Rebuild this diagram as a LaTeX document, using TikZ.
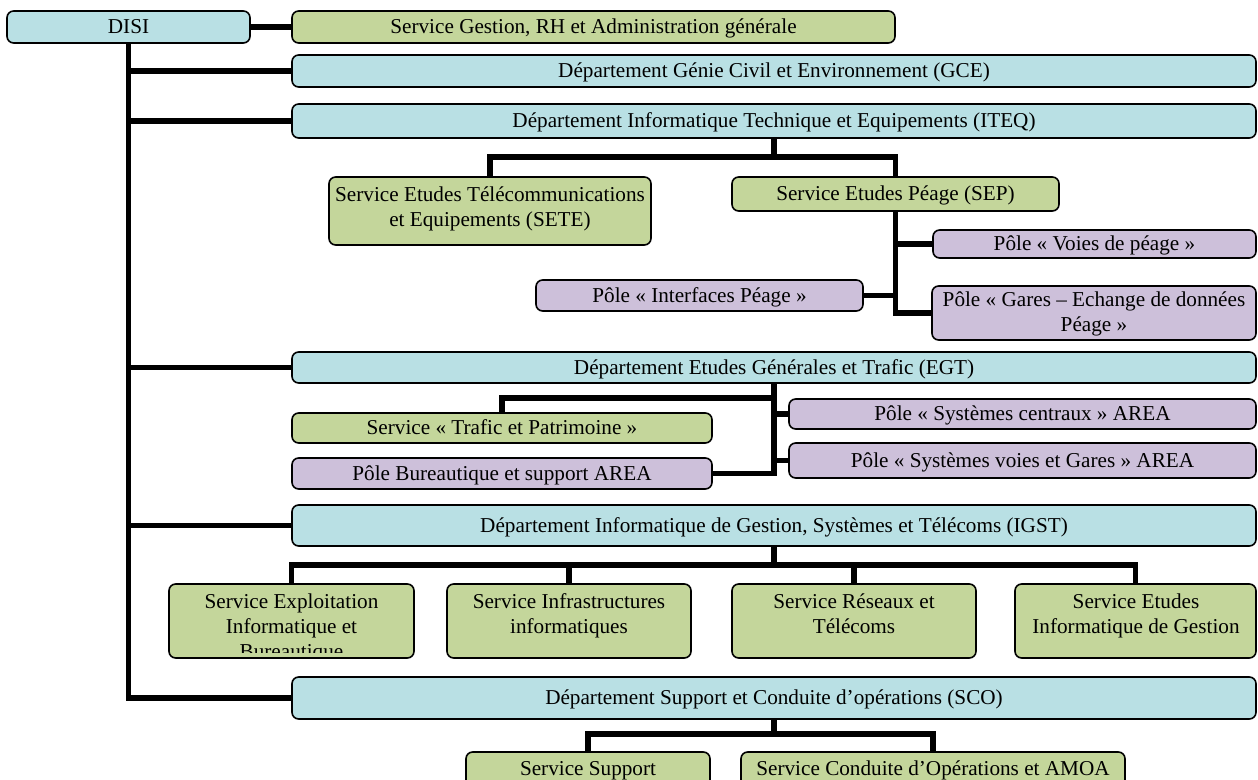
\documentclass[tikz,border=0pt]{standalone}
\usepackage{fontspec}
\setmainfont{Liberation Serif}
\newcommand\myfs{\fontsize{15.9pt}{18.75pt}\selectfont}
\definecolor{cblue}{HTML}{B9E0E4}
\definecolor{cgreen}{HTML}{C4D69B}
\definecolor{cpurple}{HTML}{CDC0DA}
\begin{document}
\begin{tikzpicture}[x=0.75pt,y=-0.75pt,
  base/.style={draw=black, line width=1.2pt, rounded corners=5pt, inner sep=0pt, align=center, font=\myfs},
  one/.style={text height=10.5pt, text depth=0.5pt},
  dep/.style={base, fill=cblue},
  srv/.style={base, fill=cgreen},
  pol/.style={base, fill=cpurple},
  geo/.style n args={4}{minimum width={(#3-(#1))*0.75pt}, minimum height={(#4-(#2))*0.75pt}, at={({(#1+#3)/2},{(#2+#4)/2})}},
  link/.style={line width=3.8pt},
  txt/.style={font=\myfs, inner sep=0pt, anchor=base}
]
\useasboundingbox (0,0) rectangle (1258,780);
\clip (0,0) rectangle (1258,780);

% boxes
\node[dep, one, geo={7}{11}{250}{43}] (disi) {DISI};
\node[srv, one, geo={292}{11}{895}{43}] (gest) {Service Gestion, RH et Administration générale};
\node[dep, one, geo={292}{55}{1256}{87}] (gce) {Département Génie Civil et Environnement (GCE)};
\node[dep, one, geo={292}{104}{1256}{138}] (iteq) {Département Informatique Technique et Equipements (ITEQ)};
\node[srv, geo={329}{177}{651}{245}] (sete) {};
\node[srv, one, geo={732}{177}{1059}{211}] (sep) {Service Etudes Péage (SEP)};
\node[pol, one, geo={933}{230}{1256}{258}] (voies) {Pôle « Voies de péage »};
\node[pol, one, geo={536}{280}{863}{311}] (inter) {Pôle « Interfaces Péage »};
\node[pol, geo={932}{286}{1256}{340}] (gares) {};
\node[dep, one, geo={292}{352}{1256}{383}] (egt) {Département Etudes Générales et Trafic (EGT)};
\node[srv, one, geo={292}{413}{712}{443}] (traf) {Service « Trafic et Patrimoine »};
\node[pol, one, geo={292}{458}{712}{489}] (bur) {Pôle Bureautique et support AREA};
\node[pol, one, geo={789}{399}{1256}{429}] (cent) {Pôle « Systèmes centraux » AREA};
\node[pol, one, geo={789}{443}{1256}{478}] (sysv) {Pôle « Systèmes voies et Gares » AREA};
\node[dep, one, geo={292}{505}{1256}{546}] (igst) {Département Informatique de Gestion, Systèmes et Télécoms (IGST)};
\node[srv, geo={169}{584}{414}{658}] (expl) {};
\node[srv, geo={447}{584}{691}{658}] (infra) {};
\node[srv, geo={732}{584}{976}{658}] (res) {};
\node[srv, geo={1015}{584}{1256}{658}] (etud) {};
\node[dep, one, geo={292}{677}{1256}{719}] (sco) {Département Support et Conduite d’opérations (SCO)};
\node[srv, geo={466}{752}{710}{810}] (supp) {};
\node[srv, geo={741}{752}{1125}{810}] (cond) {};

% multi-line / top-aligned texts
\node[txt] (setet) at (490,202) {\parbox[t]{240pt}{\centering\strut Service Etudes Télécommunications\\et Equipements (SETE)}};
\node[txt] (garest) at (1094,307) {\parbox[t]{240pt}{\centering\strut Pôle « Gares – Echange de données\\Péage »}};
\begin{scope}
\clip (169,584) rectangle (414,653);
\node[txt] (explt) at (291.5,609) {\parbox[t]{200pt}{\centering\strut Service Exploitation\\Informatique et\\Bureautique}};
\end{scope}
\node[txt] (infrat) at (569,609) {\parbox[t]{180pt}{\centering\strut Service Infrastructures\\informatiques}};
\node[txt] (rest) at (854,609) {\parbox[t]{180pt}{\centering\strut Service Réseaux et\\Télécoms}};
\node[txt] (etudt) at (1136,609) {\parbox[t]{180pt}{\centering\strut Service Etudes\\Informatique de Gestion}};
\node[txt] (suppt) at (588,775) {Service Support};
\node[txt] (condt) at (933,775) {Service Conduite d’Opérations et AMOA};

% connectors
\draw[link] (disi.east) -- (gest.west);
\draw[link] (disi.south) |- (sco.west);
\draw[link] (disi.south |- gce.west) -- (gce.west);
\draw[link] (disi.south |- iteq.west) -- (iteq.west);
\draw[link] (disi.south |- egt.west) -- (egt.west);
\draw[link] (disi.south |- igst.west) -- (igst.west);

\coordinate (h1) at (0,157);
\draw[link] (iteq.south) -- (iteq.south |- h1);
\draw[link] (sete.north) -- (sete.north |- h1) -- (sep.north |- h1) -- (sep.north);
\draw[link] (sep.south) |- (gares.west);
\draw[link] (sep.south |- voies.west) -- (voies.west);
\draw[link] (inter.east) -- (inter.east -| sep.south);

\coordinate (h2) at (0,398);
\draw[link] (egt.south) |- (bur.east);
\draw[link] (egt.south |- cent.west) -- (cent.west);
\draw[link] (egt.south |- sysv.west) -- (sysv.west);
\draw[link] (traf.north) |- (egt.south |- h2);

\coordinate (h3) at (0,565);
\draw[link] (igst.south) -- (igst.south |- h3);
\draw[link] (expl.north) -- (expl.north |- h3) -- (etud.north |- h3) -- (etud.north);
\draw[link] (infra.north) -- (infra.north |- h3);
\draw[link] (res.north) -- (res.north |- h3);

\coordinate (h4) at (0,734);
\draw[link] (sco.south) -- (sco.south |- h4);
\draw[link] (supp.north) -- (supp.north |- h4) -- (cond.north |- h4) -- (cond.north);
\end{tikzpicture}
\end{document}
